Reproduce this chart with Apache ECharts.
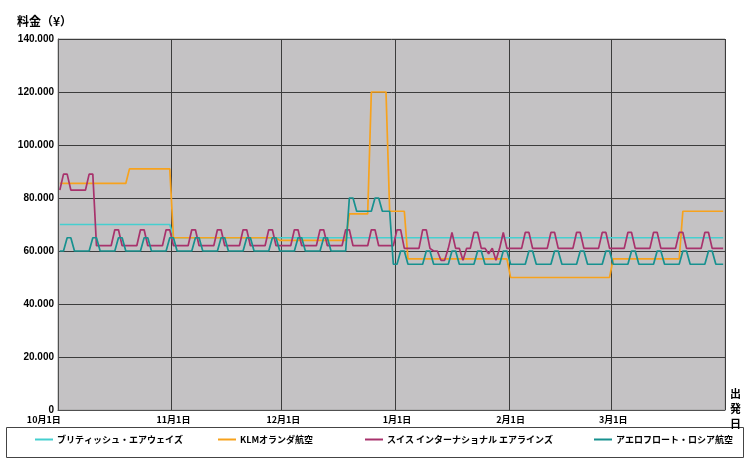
<!DOCTYPE html>
<html><head><meta charset="utf-8">
<script src="https://cdn.jsdelivr.net/npm/echarts@6/dist/echarts.min.js"></script>
<style>html,body{margin:0;padding:0;background:#fff}#c{width:750px;height:460px}</style>
</head><body><div id="c"></div>
<script>
// Month layout of the daily category axis (Oct 1 – Mar 31)
const monthNums = [10, 11, 12, 1, 2, 3];
const monthDays = [31, 30, 31, 31, 28, 31];
const tickIndex = [0, 31, 61, 92, 123, 151];
const tickLabels = ['10月1日', '11月1日', '12月1日', '1月1日', '2月1日', '3月1日'];
const seriesNames = ['ブリティッシュ・エアウェイズ', 'KLMオランダ航空', 'スイス インターナショナル エアラインズ', 'アエロフロート・ロシア航空'];
const yTicks = [0, 20, 40, 60, 80, 100, 120, 140]; // thousands of yen

// Fares in thousands of yen, one value per departure day
const ba = [
  70,70,70,70,70,70,70,70,70,70,70,70,70,70,70,70,70,70,70,70,70,70,70,70,70,70,70,70,70,70,70,
  65,65,65,65,65,65,65,65,65,65,65,65,65,65,65,65,65,65,65,65,65,65,65,65,65,65,65,65,65,65,
  65,65,65,65,65,65,65,65,65,65,65,65,65,65,65,65,65,65,65,65,65,65,65,65,65,65,65,65,65,65,65,
  65,65,65,65,65,65,65,65,65,65,65,65,65,65,65,65,65,65,65,65,65,65,65,65,65,65,65,65,65,65,65,
  65,65,65,65,65,65,65,65,65,65,65,65,65,65,65,65,65,65,65,65,65,65,65,65,65,65,65,65,
  65,65,65,65,65,65,65,65,65,65,65,65,65,65,65,65,65,65,65,65,65,65,65,65,65,65,65,65,65,65,65
];
const klm = [
  85.5,85.5,85.5,85.5,85.5,85.5,85.5,85.5,85.5,85.5,85.5,85.5,85.5,85.5,85.5,85.5,85.5,85.5,85.5,91,91,91,91,91,91,91,91,91,91,91,91,
  65,65,65,65,65,65,65,65,65,65,65,65,65,65,65,65,65,65,65,65,65,65,65,65,65,65,65,65,65,64,
  64,64,64,64,64,64,64,64,64,64,64,64,64,64,64,64,64,64,74,74,74,74,74,74,120,120,120,120,120,75,75,
  75,75,75,57,57,57,57,57,57,57,57,57,57,57,57,57,57,57,57,57,57,57,57,57,57,57,57,57,57,57,57,
  50,50,50,50,50,50,50,50,50,50,50,50,50,50,50,50,50,50,50,50,50,50,50,50,50,50,50,50,
  57,57,57,57,57,57,57,57,57,57,57,57,57,57,57,57,57,57,57,75,75,75,75,75,75,75,75,75,75,75,75
];
const swiss = [
  83,89,89,83,83,83,83,83,89,89,62,62,62,62,62,68,68,62,62,62,62,62,68,68,62,62,62,62,62,68,68,
  62,62,62,62,62,68,68, 62,62,62,62,62,68,68, 62,62,62,62,62,68,68, 62,62,62,62,62,68,68, 62,62,
  62,62,62,68,68, 62,62,62,62,62,68,68, 62,62,62,62,62,68,68, 62,62,62,62,62,68,68, 62,62,62,62,62,
  68,68,61,61,61,61,61,68,68,61,60,60,56.5,56.5,61,67,61,61,56.5,61,61,67,67,61,61,59,61,56.5,61,67,61,
  61,61,61,61,67,67, 61,61,61,61,61,67,67, 61,61,61,61,61,67,67, 61,61,61,61,61,67,67, 61,
  61,61,61,61,67,67, 61,61,61,61,61,67,67, 61,61,61,61,61,67,67, 61,61,61,61,61,67,67, 61,61,61,61
];
const aeroflot = [
  60,60,65,65,60,60,60, 60,60,65,65,60,60,60, 60,60,65,65,60,60,60, 60,60,65,65,60,60,60, 60,60,65,
  65,60,60,60,60,60,65, 65,60,60,60,60,60,65, 65,60,60,60,60,60,65, 65,60,60,60,60,60,65, 65,60,
  60,60,60,60,65,65, 60,60,60,60,60,65,65, 60,60,60,60,60,80,80, 75,75,75,75,75,80,80, 75,75,75,55,
  55,60,60, 55,55,55,55,55,60,60, 55,55,55,55,55,60,60, 55,55,55,55,55,60,60, 55,55,55,55,55,60,60,
  55,55,55,55,55,60,60, 55,55,55,55,55,60,60, 55,55,55,55,55,60,60, 55,55,55,55,55,60,60,
  55,55,55,55,55,60,60, 55,55,55,55,55,60,60, 55,55,55,55,55,60,60, 55,55,55,55,55,60,60, 55,55,55
];

const colors = ['#45CFCF', '#F7A21C', '#A8326C', '#17918F'];
const legendLeft = [30, 213, 360, 589];

const categories = [];
monthNums.forEach((m, k) => { for (let d = 1; d <= monthDays[k]; d++) categories.push(m + '月' + d + '日'); });

const jp = '"Noto Sans CJK JP", sans-serif';
const num = '"Liberation Sans", Arial, sans-serif';
const dataSets = [ba, klm, swiss, aeroflot];

const chart = echarts.init(document.getElementById('c'), null, { renderer: 'canvas' });
chart.setOption({
  animation: false,
  backgroundColor: '#ffffff',
  color: colors,
  grid: { left: 58, right: 25, top: 39, bottom: 50, show: true, backgroundColor: '#c4c2c4', borderColor: '#a4a4a4', borderWidth: 1 },
  xAxis: {
    type: 'category', data: categories, boundaryGap: true,
    axisLine: { show: true, lineStyle: { color: '#505050', width: 1 } },
    axisTick: { show: false },
    splitLine: { show: true, interval: (i) => tickIndex.indexOf(i) >= 0, lineStyle: { color: '#3c3c3c', width: 1 } },
    axisLabel: {
      interval: (i) => tickIndex.indexOf(i) >= 0,
      margin: 5,
      fontSize: 9, fontWeight: 'bold', fontFamily: jp, color: '#000',
      formatter: (v, i) => { const k = tickIndex.indexOf(i); if (k < 0) return ''; return k === 0 ? '{a|' + tickLabels[k] + '}' : tickLabels[k]; },
      rich: { a: { fontSize: 9, fontWeight: 'bold', fontFamily: jp, color: '#000', padding: [0, 32, 0, 0] } }
    }
  },
  yAxis: {
    type: 'value', min: yTicks[0], max: yTicks[yTicks.length - 1], interval: 20,
    axisLine: { show: true, lineStyle: { color: '#505050', width: 1 } },
    axisTick: { show: false },
    splitLine: { show: true, lineStyle: { color: '#3c3c3c', width: 1 } },
    axisLabel: { margin: 4, fontSize: 10, fontWeight: 'bold', fontFamily: num, color: '#000',
      formatter: (v) => v === 0 ? '0' : v + '.000' }
  },
  legend: seriesNames.map((n, i) => ({
    data: [n], left: legendLeft[i], top: 430, icon: 'rect', itemWidth: 18, itemHeight: 2, selectedMode: false,
    textStyle: { fontSize: 9, fontWeight: 'bold', fontFamily: jp, color: '#000', padding: [0, 0, 0, -1] }
  })),
  graphic: [
    { type: 'text', left: 17, top: 15, style: { text: '料金（¥）', font: 'bold 12px ' + jp, fill: '#000' } },
    { type: 'text', left: 730, top: 386, style: { text: '出\n発\n日', font: 'bold 11px ' + jp, fill: '#000', lineHeight: 15 } },
    { type: 'rect', shape: { x: 6.5, y: 427.5, width: 737, height: 30 }, style: { fill: 'none', stroke: '#444', lineWidth: 1 }, z: -1 }
  ],
  series: dataSets.map((d, i) => ({
    name: seriesNames[i], type: 'line', data: d, showSymbol: false, symbol: 'none',
    lineStyle: { width: 1.7, color: colors[i] }, itemStyle: { color: colors[i] }
  }))
});
</script></body></html>
